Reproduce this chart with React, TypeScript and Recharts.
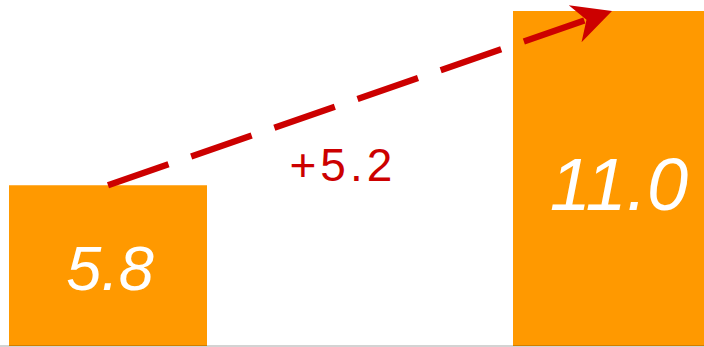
import React from 'react';
import { BarChart, Bar, XAxis, YAxis, ReferenceLine, ReferenceDot, LabelList } from 'recharts';

// ---- data ----
const categories = ['Before', 'After'];
const positions = [0, 1];
const values = [5.8, 11.0];
const deltaText = ['+' + (values[1] - values[0]).toFixed(1)];
const deltaAnchor = [0.462, 5.93];

// ---- styles ----
const BAR_COLOR = '#FF9900';
const RED = '#CC0000';
const LABEL_FONT_SIZES = [63, 74];
const LABEL_BASELINE_K = [0.395, 0.425];
const LABEL_DX = [2, 7];
const FONT = '"Liberation Sans", Arial, Helvetica, sans-serif';

const data = categories.map((c, i) => ({ name: c, x: positions[i], v: values[i] }));

const ArrowShape = (props: any) => {
  const { x1, y1, x2, y2 } = props;
  if ([x1, y1, x2, y2].some((n: any) => typeof n !== 'number' || isNaN(n))) return null;
  const dx = x2 - x1;
  const dy = y2 - y1;
  const len = Math.sqrt(dx * dx + dy * dy);
  const ux = dx / len;
  const uy = dy / len;
  const nx = -uy;
  const ny = ux;
  const headLen = 39;
  const headHalf = 19.6;
  const notch = 27;
  const lx = x2 - notch * ux;
  const ly = y2 - notch * uy;
  const pts = [
    [x2, y2],
    [x2 - headLen * ux + headHalf * nx, y2 - headLen * uy + headHalf * ny],
    [lx, ly],
    [x2 - headLen * ux - headHalf * nx, y2 - headLen * uy - headHalf * ny],
  ]
    .map((p) => p.join(','))
    .join(' ');
  return (
    <g>
      <line x1={x1} y1={y1} x2={lx} y2={ly} stroke={RED} strokeWidth={6.3} strokeDasharray="64 24" strokeLinecap="butt" />
      <polygon points={pts} fill={RED} stroke="none" />
    </g>
  );
};

const BarValueLabel = (props: any) => {
  const { x, y, width, height, value, index } = props;
  const fs = LABEL_FONT_SIZES[index] ?? 62;
  const k = LABEL_BASELINE_K[index] ?? 0.4;
  const dx = LABEL_DX[index] ?? 0;
  return (
    <text
      x={x + width / 2 + dx}
      y={y + height / 2 + k * fs}
      textAnchor="middle"
      fill="#FFFFFF"
      fontStyle="italic"
      fontFamily={FONT}
      fontSize={fs}
    >
      {Number(value).toFixed(1)}
    </text>
  );
};

const DeltaLabel = (props: any) => {
  const vb = props.viewBox || {};
  const cx = (vb.x ?? 0) + (vb.width ?? 0) / 2;
  const cy = (vb.y ?? 0) + (vb.height ?? 0) / 2;
  return (
    <text x={cx + 2} y={cy} textAnchor="middle" fill={RED} fontFamily={FONT} fontSize={46} letterSpacing={4}>
      {deltaText[0]}
    </text>
  );
};

export default function App() {
  return (
    <div style={{ position: 'absolute', left: 0, top: 0, width: 704, height: 347, background: '#fff' }}>
      <BarChart width={704} height={347} data={data} margin={{ top: 11, right: 0, bottom: 1, left: 0 }}>
        <XAxis
          type="number"
          dataKey="x"
          domain={[-108 / 504, 1 + 92 / 504]}
          ticks={positions}
          hide
          allowDataOverflow
        />
        <YAxis type="number" domain={[1, 11]} hide allowDataOverflow />
        <Bar dataKey="v" fill={BAR_COLOR} barSize={198} isAnimationActive={false}>
          <LabelList dataKey="v" content={BarValueLabel} />
        </Bar>
        <ReferenceLine y={1} stroke="#000000" strokeOpacity={0.35} strokeWidth={1} ifOverflow="visible" />
        <ReferenceLine
          segment={[
            { x: positions[0], y: values[0] },
            { x: positions[1], y: values[1] },
          ]}
          ifOverflow="visible"
          shape={ArrowShape}
        />
        <ReferenceDot x={deltaAnchor[0]} y={deltaAnchor[1]} r={0} fill="none" stroke="none" ifOverflow="visible" label={DeltaLabel} />
      </BarChart>
    </div>
  );
}
